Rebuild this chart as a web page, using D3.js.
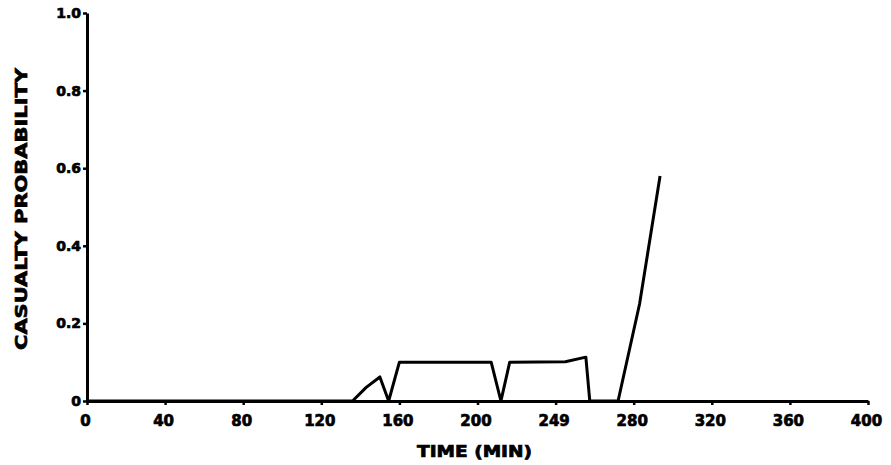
<!DOCTYPE html>
<html>
<head>
<meta charset="utf-8">
<script src="https://cdn.jsdelivr.net/npm/d3@7"></script>
<style>
  html, body { margin: 0; padding: 0; background: #fff; }
  svg { display: block; }
  text { font-family: "DejaVu Sans", sans-serif; font-weight: bold; fill: #000; stroke: #000; stroke-width: 0.7px; }
</style>
</head>
<body>
<svg id="chart" width="891" height="465"></svg>
<script>
// ---- data ----
const timeMin = [0, 136, 143, 150, 154.5, 160, 207, 212, 216.5, 245, 255.5, 257.5, 272, 283, 293.5];
const casualtyProb = [0, 0, 0.035, 0.062, 0, 0.1, 0.1, 0, 0.1, 0.101, 0.113, 0, 0, 0.25, 0.58];
const xTickValues = [0, 40, 80, 120, 160, 200, 240, 280, 320, 360, 400];
const xTickLabels = ["0", "40", "80", "120", "160", "200", "249", "280", "320", "360", "400"];
const yTickValues = [0, 0.2, 0.4, 0.6, 0.8, 1.0];
const yTickLabels = ["0", "0.2", "0.4", "0.6", "0.8", "1.0"];
const xTitle = "TIME (MIN)";
const yTitle = "CASUALTY PROBABILITY";

// ---- layout ----
const svg = d3.select("#chart");
const x = d3.scaleLinear().domain([0, 400]).range([87, 868]);
const y = d3.scaleLinear().domain([0, 1]).range([401, 13]);

// x axis
const xAxis = d3.axisBottom(x)
  .tickValues(xTickValues)
  .tickFormat((d, i) => xTickLabels[i])
  .tickSize(4)
  .tickPadding(10)
  .tickSizeOuter(0);
const gx = svg.append("g").attr("transform", `translate(0,${y(0)})`).call(xAxis);
gx.select(".domain").attr("stroke", "#000").attr("stroke-width", 3);
gx.selectAll(".tick line").attr("stroke", "#000").attr("stroke-width", 2.5);
gx.selectAll(".tick text").style("font-size", "15px").attr("fill", "#000").attr("dx", "-2");

// y axis
const yAxis = d3.axisLeft(y)
  .tickValues(yTickValues)
  .tickFormat((d, i) => yTickLabels[i])
  .tickSize(4)
  .tickPadding(2)
  .tickSizeOuter(0);
const gy = svg.append("g").attr("transform", `translate(${x(0)},0)`).call(yAxis);
gy.select(".domain").attr("stroke", "#000").attr("stroke-width", 3);
gy.selectAll(".tick line").attr("stroke", "#000").attr("stroke-width", 2.5);
gy.selectAll(".tick text").style("font-size", "14px").attr("fill", "#000");

// axis titles
svg.append("text")
  .attr("x", 417).attr("y", 457)
  .attr("textLength", 115).attr("lengthAdjust", "spacingAndGlyphs")
  .style("font-size", "15px")
  .text(xTitle);

svg.append("text")
  .attr("transform", "translate(27,350) rotate(-90)")
  .attr("x", 0).attr("y", 0)
  .attr("textLength", 282).attr("lengthAdjust", "spacingAndGlyphs")
  .style("font-size", "16px")
  .text(yTitle);

// data line
const line = d3.line()
  .x((d, i) => x(timeMin[i]))
  .y((d, i) => y(casualtyProb[i]));
svg.append("path")
  .datum(casualtyProb)
  .attr("d", line)
  .attr("fill", "none")
  .attr("stroke", "#000")
  .attr("stroke-width", 3)
  .attr("stroke-linejoin", "round");
</script>
</body>
</html>
